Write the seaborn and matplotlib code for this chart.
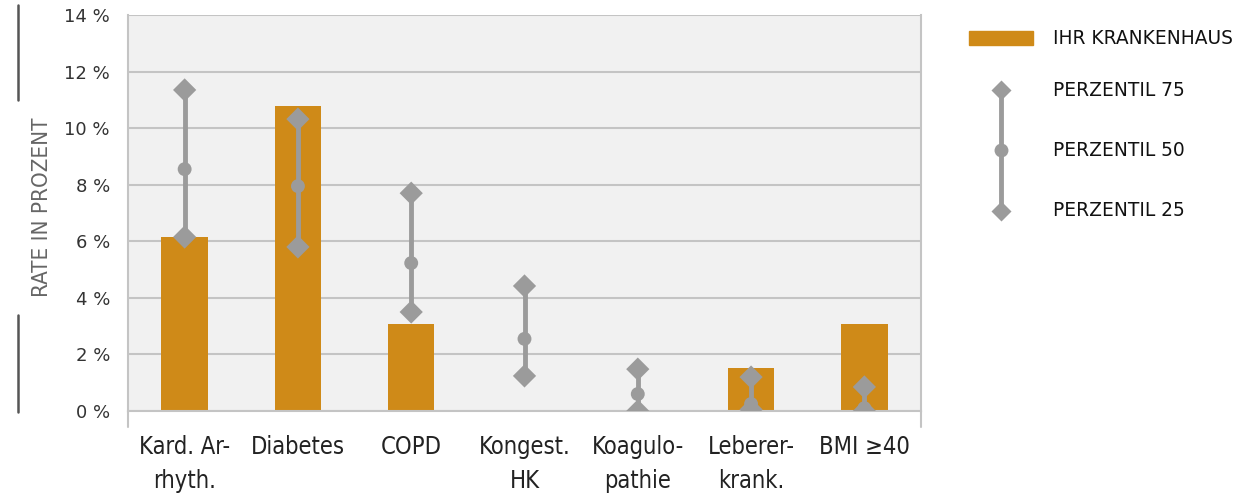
import numpy as np
import pandas as pd
import matplotlib
matplotlib.use("Agg")
import matplotlib.pyplot as plt
from matplotlib import font_manager
import seaborn as sns
from matplotlib.patches import Rectangle
from matplotlib.lines import Line2D

categories = ["Kard. Ar-\nrhyth.", "Diabetes", "COPD", "Kongest.\nHK", "Koagulo-\npathie", "Leberer-\nkrank.", "BMI ≥40"]
hospital = [6.15, 10.78, 3.08, 0.0, 0.0, 1.52, 3.08]
p75 = [11.35, 10.32, 7.7, 4.42, 1.48, 1.2, 0.85]
p50 = [8.55, 7.95, 5.23, 2.55, 0.6, 0.25, 0.1]
p25 = [6.15, 5.8, 3.5, 1.24, 0.0, 0.05, 0.0]
yticks = [0, 2, 4, 6, 8, 10, 12, 14]
ytick_labels = ["0 %", "2 %", "4 %", "6 %", "8 %", "10 %", "12 %", "14 %"]
legend_labels = ["IHR KRANKENHAUS", "PERZENTIL 75", "PERZENTIL 50", "PERZENTIL 25"]

BAR = "#CF8A18"
GREY = "#9B9B9B"
GRID = "#C4C4C4"

names = {f.name for f in font_manager.fontManager.ttflist}
cond = [f for f in font_manager.fontManager.ttflist if f.name == "DejaVu Sans" and f.stretch == "condensed"]
if "Liberation Sans Narrow" in names:
    NARROW = dict(family="Liberation Sans Narrow")
elif cond:
    NARROW = dict(family="DejaVu Sans", fontstretch="condensed")
else:
    NARROW = dict(family="Roboto")

sns.set_theme(style="white")
plt.rcParams["font.family"] = ["DejaVu Sans"]

df = pd.DataFrame({"cat": categories, "hospital": hospital, "p75": p75, "p50": p50, "p25": p25})

fig = plt.figure(figsize=(12.4, 4.99), dpi=100)
ax = fig.add_axes([128 / 1240, 88 / 499, (921 - 128) / 1240, (411 - 15) / 499])
ax.set_facecolor("#F1F1F1")

sns.barplot(data=df, x="cat", y="hospital", color=BAR, saturation=1, width=0.41, ax=ax, zorder=2, linewidth=0)

xs = np.arange(len(categories))
ax.vlines(xs, df["p25"], df["p75"], color=GREY, lw=3.5, zorder=3)
sns.scatterplot(data=df, x="cat", y="p75", marker="D", s=140, color=GREY, edgecolor="none", ax=ax, zorder=4)
sns.scatterplot(data=df, x="cat", y="p25", marker="D", s=140, color=GREY, edgecolor="none", ax=ax, zorder=4)
sns.scatterplot(data=df, x="cat", y="p50", marker="o", s=100, color=GREY, edgecolor="none", ax=ax, zorder=4)

ax.set_xlim(-0.5, len(categories) - 0.5)
ax.set_ylim(0, 14)
ax.set_yticks(yticks)
ax.set_yticklabels(ytick_labels, fontsize=13, color="#333333")
ax.yaxis.grid(True, color=GRID, lw=1.5, zorder=0)
ax.set_axisbelow(True)
ax.tick_params(axis="y", length=0, pad=13)

ax.set_xticks(xs)
ax.set_xticklabels(categories, fontsize=17, color="#222222", linespacing=1.55, **NARROW)
ax.set_xticks(np.arange(-0.5, len(categories), 1.0), minor=True)
ax.tick_params(axis="x", which="major", length=0, pad=17)
ax.tick_params(axis="x", which="minor", length=11, width=1.5, color=GRID, direction="out")
ax.set_xlabel("")
ax.set_ylabel("")

for side in ["left", "right", "bottom"]:
    ax.spines[side].set_visible(True)
    ax.spines[side].set_color(GRID)
    ax.spines[side].set_linewidth(1.5)
ax.spines["top"].set_visible(False)
for xv in [-0.5, len(categories) - 0.5]:
    ax.plot([xv, xv], [0, -0.55], color=GRID, lw=1.5, clip_on=False)

# y label with decorative lines
fig.text(42 / 1240, 1 - 207 / 499, "RATE IN PROZENT", rotation=90, ha="center", va="center",
         fontsize=16, color="#666666", **NARROW)
fig.add_artist(Line2D([18 / 1240, 18 / 1240], [1 - 5 / 499, 1 - 100 / 499], color="#555555", lw=1.8))
fig.add_artist(Line2D([18 / 1240, 18 / 1240], [1 - 315 / 499, 1 - 412 / 499], color="#555555", lw=1.8))

# legend
lx = 1001 / 1240
fig.add_artist(Rectangle((969 / 1240, 1 - 45 / 499), 64 / 1240, 14 / 499, color=BAR, transform=fig.transFigure))
fig.add_artist(Line2D([lx, lx], [1 - 90 / 499, 1 - 211 / 499], color=GREY, lw=3.5))
fig.add_artist(Line2D([lx], [1 - 90 / 499], marker="D", ms=10, color=GREY, mec="none"))
fig.add_artist(Line2D([lx], [1 - 150 / 499], marker="o", ms=10, color=GREY, mec="none"))
fig.add_artist(Line2D([lx], [1 - 211 / 499], marker="D", ms=10, color=GREY, mec="none"))
for lab, yy in zip(legend_labels, [38, 90, 150, 211]):
    fig.text(1053 / 1240, 1 - yy / 499, lab, ha="left", va="center", fontsize=13.4, color="#111111")

fig.savefig("out.png", dpi=100)
